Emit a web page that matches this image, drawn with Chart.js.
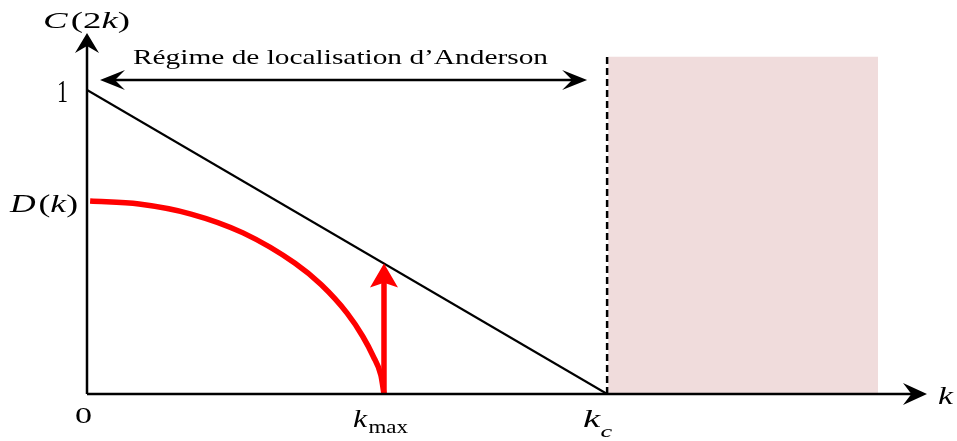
<!DOCTYPE html>
<html lang="fr">
<head>
<meta charset="UTF-8" />
<title>Régime de localisation d’Anderson</title>
<script src="https://cdn.jsdelivr.net/npm/chart.js@4"></script>
<style>
  html, body { margin: 0; padding: 0; background: #fff; }
  canvas { display: block; }
</style>
</head>
<body>
<canvas id="graphe" width="957" height="441"></canvas>
<script>
  // bornes des axes (k en unités de k_c, C normalisé à 1)
  const kAxeMax = 1.615;
  const cAxeMax = 1.1875;

  const kC = 1;
  const kMax = 0.571;

  // droite C(2k)
  const droiteK = [0, kC];
  const droiteC = [1, 0];

  // courbe D(k)
  const dK = [0.006, 0.1, 0.2, 0.3, 0.4, 0.45, 0.5, 0.53, 0.55, 0.565, 0.571];
  const dC = [0.635, 0.625, 0.592, 0.53, 0.43, 0.36, 0.266, 0.19, 0.125, 0.062, 0];

  // flèche rouge en k_max, jusqu'à la droite
  const flecheK = [kMax, kMax];
  const flecheC = [0, 1 - kMax];

  // zone k > k_c
  const zoneK = [1.002, 1.521];
  const zoneC = [1.109, 1.109];
  const seuilK = [kC, kC];
  const seuilC = [0, 1.109];

  // double flèche du régime d'Anderson
  const regimeK = [0.025, 0.9615];
  const regimeC = 1.033;
  const regimeTexte = "Régime de localisation d’Anderson";

  const serif = '"Liberation Serif", "DejaVu Serif", serif';

  function points(xs, ys) {
    return xs.map((x, i) => ({ x: x, y: ys[i] }));
  }

  // pointe de flèche façon "stealth"
  function pointe(ctx, x, y, angle, long, demi, creux, couleur) {
    const dx = Math.cos(angle), dy = Math.sin(angle);
    const px = -dy, py = dx;
    ctx.save();
    ctx.fillStyle = couleur;
    ctx.beginPath();
    ctx.moveTo(x, y);
    ctx.lineTo(x - long * dx + demi * px, y - long * dy + demi * py);
    ctx.lineTo(x - creux * long * dx, y - creux * long * dy);
    ctx.lineTo(x - long * dx - demi * px, y - long * dy - demi * py);
    ctx.closePath();
    ctx.fill();
    ctx.restore();
  }

  // texte en morceaux (italique / droit / indices), étiré à la largeur voulue
  function texte(ctx, morceaux, x, y, largeur) {
    let total = 0;
    morceaux.forEach((m) => {
      ctx.font = m.f + " " + serif;
      total += ctx.measureText(m.t).width + (m.esp || 0);
    });
    const sx = largeur ? largeur / total : 1;
    ctx.save();
    ctx.translate(x, y);
    ctx.scale(sx, 1);
    ctx.fillStyle = "#000";
    ctx.textBaseline = "alphabetic";
    let pos = 0;
    morceaux.forEach((m) => {
      ctx.font = m.f + " " + serif;
      ctx.fillText(m.t, pos, m.dy || 0);
      pos += ctx.measureText(m.t).width + (m.esp || 0);
    });
    ctx.restore();
  }

  const decor = {
    id: "decor",
    beforeDraw(chart) {
      const ctx = chart.ctx;
      ctx.save();
      ctx.fillStyle = "#fff";
      ctx.fillRect(0, 0, chart.width, chart.height);
      ctx.restore();
    },
    afterDatasetsDraw(chart) {
      const ctx = chart.ctx;
      const sx = chart.scales.x, sy = chart.scales.y;
      const x0 = sx.getPixelForValue(0), y0 = sy.getPixelForValue(0);
      const xFin = sx.getPixelForValue(kAxeMax), yFin = sy.getPixelForValue(cAxeMax);

      // axes
      ctx.save();
      ctx.strokeStyle = "#000";
      ctx.lineWidth = 2.5;
      ctx.beginPath();
      ctx.moveTo(x0, y0);
      ctx.lineTo(xFin - 12, y0);
      ctx.moveTo(x0, y0);
      ctx.lineTo(x0, yFin + 10);
      ctx.stroke();
      ctx.restore();
      pointe(ctx, xFin, y0, 0, 24, 11, 0.65, "#000");
      pointe(ctx, x0, yFin, -Math.PI / 2, 20, 12, 0.65, "#000");

      // double flèche du régime
      const ra = sx.getPixelForValue(regimeK[0]);
      const rb = sx.getPixelForValue(regimeK[1]);
      const ry = sy.getPixelForValue(regimeC);
      ctx.save();
      ctx.strokeStyle = "#000";
      ctx.lineWidth = 2.5;
      ctx.beginPath();
      ctx.moveTo(ra + 10, ry);
      ctx.lineTo(rb - 10, ry);
      ctx.stroke();
      ctx.restore();
      pointe(ctx, ra, ry, Math.PI, 25, 10, 0.6, "#000");
      pointe(ctx, rb, ry, 0, 25, 10, 0.6, "#000");

      // tête de la flèche rouge
      pointe(ctx, sx.getPixelForValue(flecheK[1]), sy.getPixelForValue(flecheC[1]),
        -Math.PI / 2, 24, 14, 0.8, "#ff0000");

      // étiquettes
      texte(ctx, [
        { t: "C", f: "italic 23px", esp: 2 },
        { t: "(", f: "23px" },
        { t: "2", f: "23px" },
        { t: "k", f: "italic 23px" },
        { t: ")", f: "23px" }
      ], 43, 28, 87);
      texte(ctx, [{ t: regimeTexte, f: "22px" }], 133, 64, 415);
      texte(ctx, [{ t: "1", f: "31px" }], x0 - 30, sy.getPixelForValue(1) + 12, 11);
      texte(ctx, [
        { t: "D", f: "italic 25px", esp: 2 },
        { t: "(", f: "25px" },
        { t: "k", f: "italic 25px" },
        { t: ")", f: "25px" }
      ], 10, sy.getPixelForValue(dC[0]) + 11, 68);
      texte(ctx, [{ t: "0", f: "24px" }], x0 - 12, y0 + 29, 17);
      texte(ctx, [
        { t: "k", f: "italic 25px", esp: 1 },
        { t: "max", f: "18px", dy: 6 }
      ], sx.getPixelForValue(kMax) - 31, y0 + 33, 55);
      texte(ctx, [
        { t: "k", f: "italic 25px" },
        { t: "c", f: "italic 17px", dy: 10 }
      ], sx.getPixelForValue(kC) - 24, y0 + 33, 29);
      texte(ctx, [{ t: "k", f: "italic 25px" }], xFin + 11, y0 + 10, 15);
    }
  };

  new Chart(document.getElementById("graphe"), {
    type: "scatter",
    data: {
      datasets: [
        {
          // zone k > k_c
          data: points(zoneK, zoneC),
          showLine: true,
          fill: "origin",
          backgroundColor: "#f0dcdc",
          borderWidth: 0,
          pointRadius: 0,
          order: 5
        },
        {
          data: points(seuilK, seuilC),
          showLine: true,
          borderColor: "#000",
          borderWidth: 2.5,
          borderDash: [7, 4],
          pointRadius: 0,
          order: 4
        },
        {
          data: points(droiteK, droiteC),
          showLine: true,
          borderColor: "#000",
          borderWidth: 2.2,
          pointRadius: 0,
          order: 3
        },
        {
          data: points(dK, dC),
          showLine: true,
          borderColor: "#ff0000",
          borderWidth: 5.5,
          cubicInterpolationMode: "monotone",
          pointRadius: 0,
          order: 2
        },
        {
          data: points(flecheK, [flecheC[0], flecheC[1] - 0.05]),
          showLine: true,
          borderColor: "#ff0000",
          borderWidth: 5.5,
          pointRadius: 0,
          order: 1
        }
      ]
    },
    options: {
      responsive: false,
      animation: false,
      layout: { padding: { left: 87, right: 30, top: 33, bottom: 47 } },
      scales: {
        x: { type: "linear", min: 0, max: kAxeMax, display: false },
        y: { type: "linear", min: 0, max: cAxeMax, display: false }
      },
      plugins: {
        legend: { display: false },
        tooltip: { enabled: false }
      },
      events: []
    },
    plugins: [decor]
  });
</script>
</body>
</html>
